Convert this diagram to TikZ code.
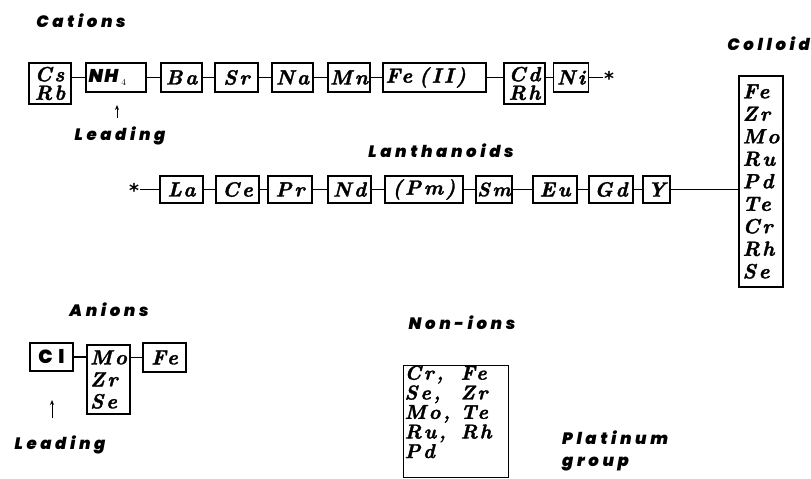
\documentclass[tikz,border=0pt]{standalone}
\usepackage{fontspec}
\usetikzlibrary{arrows.meta}
% element symbols: spaced bold italic serif; headings: heavy oblique sans
\newfontfamily\elfont[Extension=.otf, LetterSpace=13, FakeBold=1.6]{lmroman10-bolditalic}
\newfontfamily\labfont[UprightFont={* Black Italic}, LetterSpace=22]{Poppins}
\newfontfamily\clfont[UprightFont={* Black}, LetterSpace=30]{Poppins}
\newfontfamily\nhfont[UprightFont={* Black Italic}, LetterSpace=8]{Poppins}
\newfontfamily\starfont{DejaVu Sans}
\begin{document}
\begin{tikzpicture}[x=1pt,y=-1pt,
  el/.style={draw, line width=1.2pt, inner sep=0pt, align=left,
    font=\elfont\fontsize{20.5}{18.5}\selectfont},
  lab/.style={inner sep=0pt, align=left,
    font=\labfont\fontsize{16.5}{22}\selectfont},
  link/.style={line width=1.1pt},
  pointer/.style={line width=0.9pt, -{Stealth[length=5pt,width=4pt]}},
  star/.style={inner sep=1pt, font=\starfont\bfseries\fontsize{19}{19}\selectfont}]
\useasboundingbox (0,0) rectangle (811,479);

% ---------------- cations ----------------
\node[lab] (cat) at (81,21) {Cations};
\node[el, minimum width=42pt, minimum height=41pt] (csrb) at (50,83.5) {Cs\\Rb};
\node[el, minimum width=60pt, minimum height=29pt] (nh4) at (116,77.5)
  {\makebox[55pt][l]{\nhfont\fontsize{18.5}{18.5}\selectfont NH\,\raisebox{-3pt}{\normalfont\fontsize{9}{9}\selectfont 4}}};
\node[el, minimum width=41pt, minimum height=29pt] (ba) at (181.5,77.5) {Ba};
\node[el, minimum width=43pt, minimum height=29pt] (sr) at (236.5,77.5) {Sr};
\node[el, minimum width=41pt, minimum height=29pt] (na) at (292.5,77.5) {Na};
\node[el, minimum width=42pt, minimum height=29pt] (mn) at (349,77.5) {Mn};
\node[el, minimum width=103pt, minimum height=29pt] (fe2) at (434.5,77.5)
  {\makebox[98pt][l]{Fe\hspace{7pt}(II)}};
\node[el, minimum width=41pt, minimum height=41pt] (cdrh) at (524.5,83.5) {Cd\\Rh};
\node[el, minimum width=35pt, minimum height=29pt] (ni) at (571,77.5) {Ni};
\node[star] (st1) at (609,78) {*};

\draw[link] (csrb.east |- nh4) -- (nh4.west);
\draw[link] (nh4) -- (ba);
\draw[link] (ba) -- (sr);
\draw[link] (sr) -- (na);
\draw[link] (na) -- (mn);
\draw[link] (mn) -- (fe2);
\draw[link] (fe2.east) -- (cdrh.west |- fe2);
\draw[link] (cdrh.east |- ni) -- (ni.west);
\draw[link] (ni.east) -- (st1.west |- ni);

\coordinate (a1s) at (117,118);
\coordinate (a1e) at (117,105);
\draw[pointer] (a1s) -- (a1e);
\node[lab] (lead1) at (120,136) {Leading};

% ---------------- lanthanoids ----------------
\node[lab] (lan) at (441,151) {Lanthanoids};
\node[star] (st2) at (134,190) {*};
\node[el, minimum width=43pt, minimum height=27pt] (la) at (181.5,189.5) {La};
\node[el, minimum width=43pt, minimum height=27pt] (ce) at (237.5,189.5) {Ce};
\node[el, minimum width=44pt, minimum height=27pt] (pr) at (290,189.5) {Pr};
\node[el, minimum width=43pt, minimum height=27pt] (nd) at (349.5,189.5) {Nd};
\node[el, minimum width=78pt, minimum height=27pt] (pm) at (424,189.5) {(Pm)};
\node[el, minimum width=36pt, minimum height=27pt,
  font=\elfont\fontsize{19.5}{18.5}\selectfont] (sm) at (494,189.5) {Sm};
\node[el, minimum width=44pt, minimum height=27pt] (eu) at (555,189.5) {Eu};
\node[el, minimum width=44pt, minimum height=27pt] (gd) at (611,189.5) {Gd};
\node[el, minimum width=27pt, minimum height=27pt] (yt) at (656.5,189.5) {Y};

\draw[link] (st2.east |- la) -- (la);
\draw[link] (la) -- (ce);
\draw[link] (ce) -- (pr);
\draw[link] (pr) -- (nd);
\draw[link] (nd) -- (pm);
\draw[link] (pm) -- (sm);
\draw[link] (sm) -- (eu);
\draw[link] (eu) -- (gd);
\draw[link] (gd) -- (yt);

% ---------------- colloid ----------------
\node[lab, anchor=east] (col) at (810,44) {Colloid};
\node[el, minimum width=44pt, minimum height=211pt,
  font=\elfont\fontsize{20.5}{22.5}\selectfont] (coll) at (761,181.5)
  {Fe\\Zr\\Mo\\Ru\\Pd\\Te\\Cr\\Rh\\Se};
\draw[link] (yt.east) -- (coll.west |- yt);

% ---------------- anions ----------------
\node[lab] (an) at (109,310) {Anions};
\node[el, minimum width=43pt, minimum height=28pt] (cl) at (51.5,357)
  {\clfont\fontsize{19}{19}\selectfont Cl};
\node[el, minimum width=43pt, minimum height=69pt,
  font=\elfont\fontsize{20.5}{22}\selectfont] (mzs) at (108.5,379.5)
  {Mo\\Zr\\Se};
\node[el, minimum width=43pt, minimum height=29pt] (fe3) at (164.5,357.5) {Fe};
\draw[link] (cl.east) -- (mzs.west |- cl);
\draw[link] (mzs.east |- fe3) -- (fe3.west);

\coordinate (a2s) at (52,418);
\coordinate (a2e) at (52,400);
\draw[pointer] (a2s) -- (a2e);
\node[lab] (lead2) at (60,445) {Leading};

% ---------------- non-ions ----------------
\node[lab] (non) at (462,323) {Non-ions};
\node[el, anchor=north west,
  font=\elfont\fontsize{20}{19}\selectfont] (nonbox) at (403,365)
  {\begin{minipage}[t][112pt][t]{105pt}\vspace{0pt}\hspace{1pt}%
   \begin{tabular}[t]{@{}p{56pt}@{}l@{}}
   Cr, & Fe\\ Se, & Zr\\ Mo, & Te\\ Ru, & Rh\\ Pd &
   \end{tabular}\end{minipage}};
\node[lab, anchor=west] (plat) at (562,451) {Platinum\\group};
\end{tikzpicture}
\end{document}
